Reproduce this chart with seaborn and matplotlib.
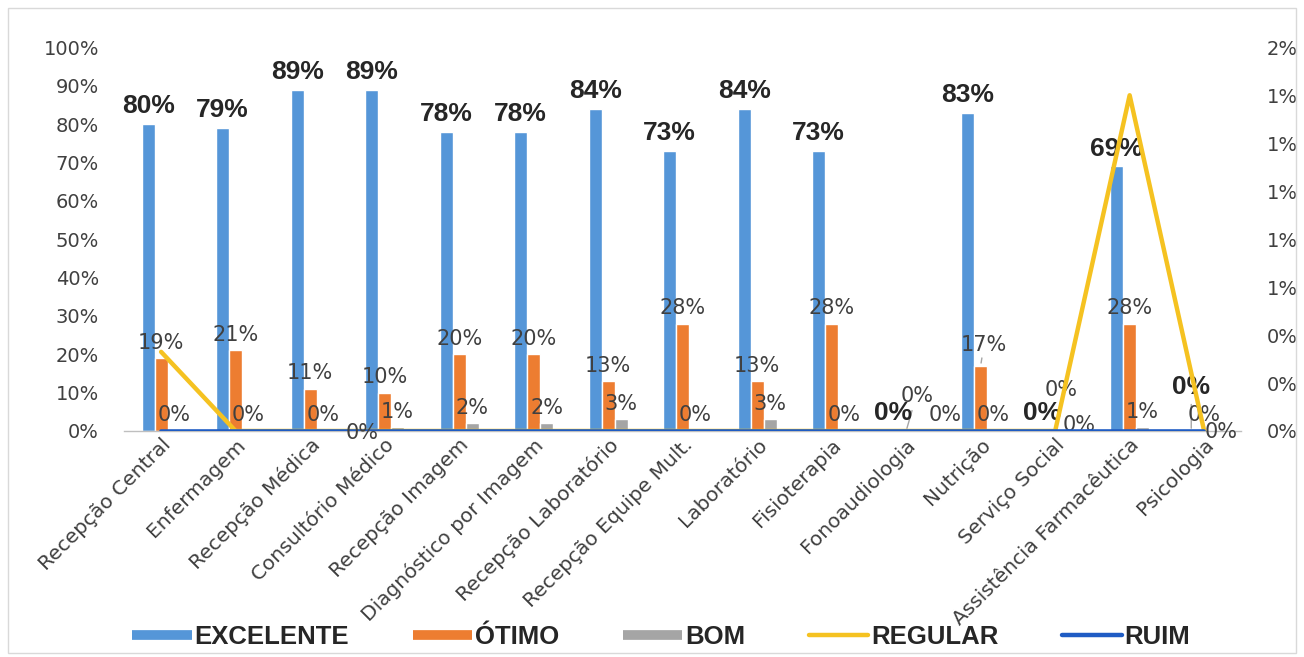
import numpy as np
import pandas as pd
import matplotlib
matplotlib.use("Agg")
import matplotlib.pyplot as plt
from matplotlib.lines import Line2D
from matplotlib.patches import Rectangle
import seaborn as sns

# ---- data -------------------------------------------------------------
categorias = [
    "Recepção Central", "Enfermagem", "Recepção Médica", "Consultório Médico",
    "Recepção Imagem", "Diagnóstico por Imagem", "Recepção Laboratório",
    "Recepção Equipe Mult.", "Laboratório", "Fisioterapia", "Fonoaudiologia",
    "Nutrição", "Serviço Social", "Assistência Farmacêutica", "Psicologia",
]
excelente = [80, 79, 89, 89, 78, 78, 84, 73, 84, 73, 0, 83, 0, 69, 0]
otimo = [19, 21, 11, 10, 20, 20, 13, 28, 13, 28, 0, 17, 0, 28, 0]
bom = [0, 0, 0, 1, 2, 2, 3, 0, 3, 0, 0, 0, 0, 1, 0]
regular = [0.33, 0, 0, 0, 0, 0, 0, 0, 0, 0, 0, 0, 0, 1.4, 0]
ruim = [0, 0, 0, 0, 0, 0, 0, 0, 0, 0, 0, 0, 0, 0, 0]

left_ticks = [0, 10, 20, 30, 40, 50, 60, 70, 80, 90, 100]
right_ticks = [0, 0.2, 0.4, 0.6, 0.8, 1.0, 1.2, 1.4, 1.6]

series_barras = ["EXCELENTE", "ÓTIMO", "BOM"]
cores = {
    "EXCELENTE": "#5596d8",
    "ÓTIMO": "#ed7d31",
    "BOM": "#a5a5a5",
    "REGULAR": "#f5c221",
    "RUIM": "#1f5cc4",
}

# ---- style ------------------------------------------------------------
sns.set_theme(style="white")
plt.rcParams["font.family"] = ["DejaVu Sans"]
txt_cor = "#404040"

df = pd.DataFrame({
    "categoria": categorias * 3,
    "serie": sum([[s] * len(categorias) for s in series_barras], []),
    "valor": excelente + otimo + bom,
})

fig = plt.figure(figsize=(13.04, 6.57), dpi=100)
ax = fig.add_axes([0.095, 0.344, 0.857, 0.584])

sns.barplot(data=df, x="categoria", y="valor", hue="serie",
            hue_order=series_barras, palette=cores, width=0.52,
            saturation=1, legend=False, ax=ax)

ax.set_ylim(0, 100)
ax.set_yticks(left_ticks)
ax.set_yticklabels([f"{t}%" for t in left_ticks], fontsize=14, color=txt_cor)
ax.set_xlabel("")
ax.set_ylabel("")
ax.tick_params(axis="both", length=0)
ax.tick_params(axis="y", pad=18)
ax.tick_params(axis="x", pad=3)
for lbl in ax.get_xticklabels():
    lbl.set_rotation(45)
    lbl.set_ha("right")
    lbl.set_rotation_mode("anchor")
    lbl.set_fontsize(14.5)
    lbl.set_color(txt_cor)
for s in ["top", "left", "right"]:
    ax.spines[s].set_visible(False)
ax.spines["bottom"].set_color("#bfbfbf")
ax.spines["bottom"].set_linewidth(1)

# offsets (points) for labels that sit off their default place
desloc = {
    ("ÓTIMO", 10): (8, 14),
    ("BOM", 10): (19, 0),
    ("ÓTIMO", 11): (2, 4),
    ("ÓTIMO", 12): (4, 18),
    ("BOM", 12): (8, -7),
    ("EXCELENTE", 14): (0, 19),
    ("BOM", 14): (3, -12),
}
guias = {("ÓTIMO", 10), ("ÓTIMO", 11), ("EXCELENTE", 14)}

for serie, cont in zip(series_barras, ax.containers):
    for i, barra in enumerate(cont):
        v = barra.get_height()
        cx = barra.get_x() + barra.get_width() / 2
        dx, dy = desloc.get((serie, i), (0, 0))
        negrito = serie == "EXCELENTE"
        ax.annotate(f"{v:.0f}%", (cx, v), xytext=(dx, 4 + dy),
                    textcoords="offset points", ha="center", va="bottom",
                    fontsize=19 if negrito else 15,
                    fontweight="bold" if negrito else "normal",
                    color="#262626" if negrito else txt_cor,
                    fontfamily="Liberation Sans" if negrito else "DejaVu Sans",
                    zorder=5)
        if (serie, i) in guias:
            ax.annotate("", (cx, v), xytext=(dx * 0.6, 4 + dy * 0.9),
                        textcoords="offset points",
                        arrowprops=dict(arrowstyle="-", color="#a5a5a5", lw=1))

# ---- lines on the secondary axis ---------------------------------------
ax2 = ax.twinx()
pos = np.arange(len(categorias))
sns.lineplot(x=pos, y=regular, color=cores["REGULAR"], linewidth=3.2,
             sort=False, ax=ax2, zorder=3)
sns.lineplot(x=pos, y=ruim, color=cores["RUIM"], linewidth=2.6,
             sort=False, ax=ax2, zorder=4)
ax2.set_ylim(0, 1.6)
ax2.set_yticks(right_ticks)
ax2.set_yticklabels([f"{round(t):.0f}%" for t in right_ticks],
                    fontsize=14, color=txt_cor)
ax2.tick_params(axis="y", length=0, pad=18)
for s in ["top", "left", "right", "bottom"]:
    ax2.spines[s].set_visible(False)

# line value label shown under the axis
rot_linha = {
    ("RUIM", 3): (-16, -9),
}
for (serie, i), (dx, dy) in rot_linha.items():
    vals = regular if serie == "REGULAR" else ruim
    ax2.annotate(f"{round(vals[i]):.0f}%", (i, vals[i]), xytext=(dx, dy),
                 textcoords="offset points", ha="center", va="bottom",
                 fontsize=15, color=txt_cor, zorder=6)

ax.set_xlim(-0.5, len(categorias) - 0.5)
ax2.set_xlim(-0.5, len(categorias) - 0.5)

# ---- legend -----------------------------------------------------------
handles = [
    Line2D([], [], color=cores["EXCELENTE"], lw=7, solid_capstyle="butt"),
    Line2D([], [], color=cores["ÓTIMO"], lw=7, solid_capstyle="butt"),
    Line2D([], [], color=cores["BOM"], lw=7, solid_capstyle="butt"),
    Line2D([], [], color=cores["REGULAR"], lw=3.2),
    Line2D([], [], color=cores["RUIM"], lw=3.2),
]
leg = fig.legend(handles, ["EXCELENTE", "ÓTIMO", "BOM", "REGULAR", "RUIM"],
                 loc="center", bbox_to_anchor=(0.507, 0.03), ncol=5,
                 frameon=False, handlelength=2.3, handletextpad=0.1,
                 columnspacing=2.5,
                 prop={"family": "Liberation Sans", "weight": "bold",
                       "size": 18.5})
for t in leg.get_texts():
    t.set_color("#262626")

# light frame around the figure
fig.patches.append(Rectangle((0.006, 0.006), 0.988, 0.982,
                             transform=fig.transFigure, fill=False,
                             edgecolor="#d9d9d9", linewidth=1))

fig.savefig("out.png", dpi=100)
